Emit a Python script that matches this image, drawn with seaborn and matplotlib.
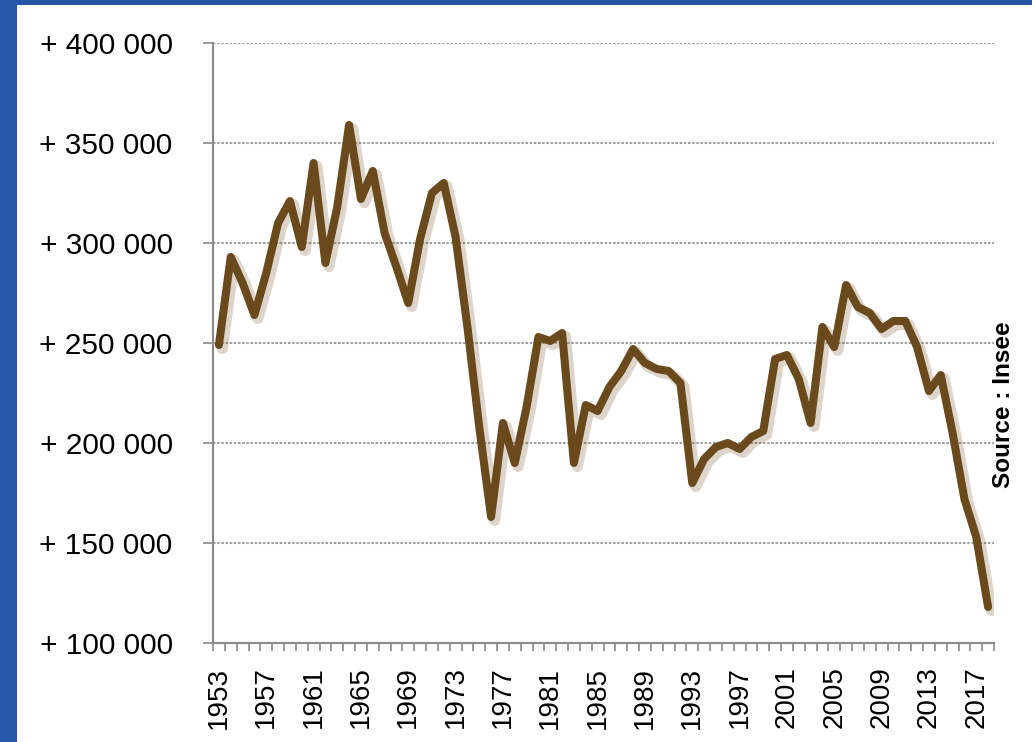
import matplotlib
matplotlib.use("Agg")
import matplotlib.pyplot as plt
import matplotlib.patheffects as pe
from matplotlib.patches import Rectangle
import numpy as np
import pandas as pd
import seaborn as sns

# natural balance per year
years = list(range(1953, 2019))
values = [
    249000, 293000, 280000, 264000, 285000, 310000, 321000, 298000, 340000, 290000,
    318000, 359000, 322000, 336000, 305000, 288000, 270000, 302000, 325000, 330000,
    303000, 258000, 208000, 163000, 210000, 190000, 218000, 253000, 251000, 255000,
    190000, 219000, 216000, 228000, 236000, 247000, 240000, 237000, 236000, 230000,
    180000, 192000, 198000, 200000, 197000, 203000, 206000, 242000, 244000, 232000,
    210000, 258000, 248000, 279000, 268000, 265000, 257000, 261000, 261000, 248000,
    226000, 234000, 205000, 172000, 153000, 118000,
]
tick_years = [1953, 1957, 1961, 1965, 1969, 1973, 1977, 1981, 1985,
              1989, 1993, 1997, 2001, 2005, 2009, 2013, 2017]
y_ticks = [100000, 150000, 200000, 250000, 300000, 350000, 400000]
y_tick_labels = ["+ 100 000", "+ 150 000", "+ 200 000", "+ 250 000",
                 "+ 300 000", "+ 350 000", "+ 400 000"]
source_text = "Source : Insee"

df = pd.DataFrame({"year": years, "value": values})

sns.set_style("white")
plt.rcParams['font.family'] = ['Liberation Sans', 'DejaVu Sans']

W, H = 1032, 742
fig = plt.figure(figsize=(W / 100, H / 100), dpi=100)
fig.patch.set_facecolor('#2656a6')
# white slide panel over the blue background
fig.add_artist(Rectangle((17 / W, 0), 1 - 17 / W, 1 - 5 / H,
                         transform=fig.transFigure, facecolor='white',
                         edgecolor='none', zorder=0))

ax = fig.add_axes([213 / W, (H - 643) / H, (994 - 213) / W, 600 / H])
ax.set_facecolor('white')

line_color = '#6a4a1c'
sns.lineplot(data=df, x="year", y="value", ax=ax, color=line_color,
             linewidth=5.8, solid_joinstyle='round', solid_capstyle='round',
             path_effects=[pe.SimpleLineShadow(offset=(2.5, -2.5), shadow_color='#7a5a30',
                                               alpha=0.25, linewidth=8),
                           pe.Normal()],
             zorder=3)

ax.set_xlim(1952.5, 2018.5)
ax.set_ylim(100000, 400000)

ax.set_xticks(tick_years)
ax.set_xticklabels([str(y) for y in tick_years], rotation=90, fontsize=20)
ax.set_xticks(np.arange(1952.5, 2019, 1), minor=True)
ax.tick_params(axis='x', which='major', length=0, pad=17, colors='black')
ax.tick_params(axis='x', which='minor', length=6, width=1.2, color='#8a8a8a', bottom=True)

ax.set_yticks(y_ticks)
ax.set_yticklabels(y_tick_labels, fontsize=21.5)
ax.tick_params(axis='y', which='major', length=7, width=1.2,
               pad=22, left=True, colors='black')
ax.tick_params(axis='y', color='#8a8a8a')

ax.yaxis.grid(True, color='#a0a0a0', linewidth=1.5, linestyle=(0, (1.2, 0.8)))
ax.xaxis.grid(False)
ax.set_axisbelow(True)

for side in ['top', 'right']:
    ax.spines[side].set_visible(False)
for side in ['left', 'bottom']:
    ax.spines[side].set_color('#8a8a8a')
    ax.spines[side].set_linewidth(1.5)

ax.set_xlabel("")
ax.set_ylabel("")

fig.text(1004 / W, 1 - 405 / H, source_text, rotation=90, ha='center', va='center',
         fontsize=17.5, fontweight='bold', color='black')

fig.savefig("out.png", dpi=100, facecolor=fig.get_facecolor())
